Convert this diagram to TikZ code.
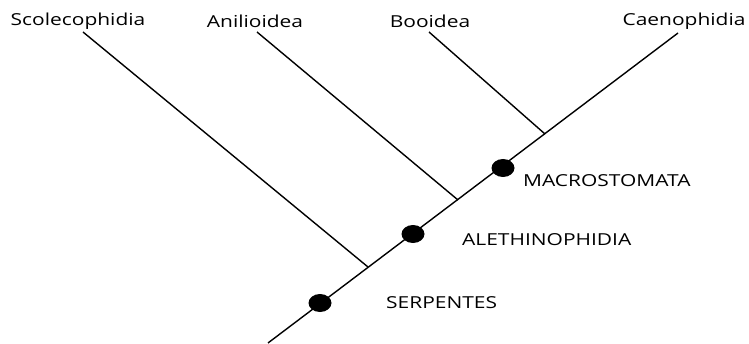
\documentclass[tikz,border=0pt]{standalone}
\usepackage{fontspec}
\setmainfont{Open Sans}[FakeStretch=1.27]
\usepackage{tikz}
\usetikzlibrary{shapes.geometric}
\usepackage{xcolor}

\begin{document}
\begin{tikzpicture}[x=1pt,y=1pt]
	\useasboundingbox (0,0) rectangle (749,343);
	\tikzstyle{branch}=[line width=1.4pt]
	\tikzstyle{taxon}=[font=\fontsize{16.5}{18}\selectfont,inner sep=0pt]
	\tikzstyle{clade}=[font=\fontsize{16.5}{18}\selectfont,inner sep=0pt,anchor=west]
	\tikzstyle{marker}=[ellipse,fill=black,minimum width=23pt,minimum height=18pt,inner sep=0pt]
	% stem and tips
	\coordinate (root) at (268,0);
	\coordinate (tipC) at (678,310);
	\coordinate (tipS) at (83,311);%Scolecophidia
	\coordinate (tipA) at (257,311);%Anilioidea
	\coordinate (tipB) at (429,311);%Booidea
	% junctions on the stem
	\coordinate (jS) at (368,76);
	\coordinate (jA) at (458,143);
	\coordinate (jB) at (545,209);
	\draw[branch] (root) -- (tipC);
	\draw[branch] (jS) -- (tipS);
	\draw[branch] (jA) -- (tipA);
	\draw[branch] (jB) -- (tipB);
	% names
	\node[taxon] (scol) at (78,322) {Scolecophidia};
	\node[taxon] (anil) at (255,322) {Anilioidea};
	\node[taxon] (booi) at (430,322) {Booidea};
	\node[taxon] (caen) at (684,322) {Caenophidia};
	% clades
	\node[marker] (dotS) at (320,40) {};
	\node[marker] (dotA) at (413,109) {};
	\node[marker] (dotM) at (503,175) {};
	\node[clade] (serp) at (386,40) {SERPENTES};
	\node[clade] (alet) at (462,103) {ALETHINOPHIDIA};
	\node[clade] (macr) at (523,162) {MACROSTOMATA};
\end{tikzpicture}
\end{document}
